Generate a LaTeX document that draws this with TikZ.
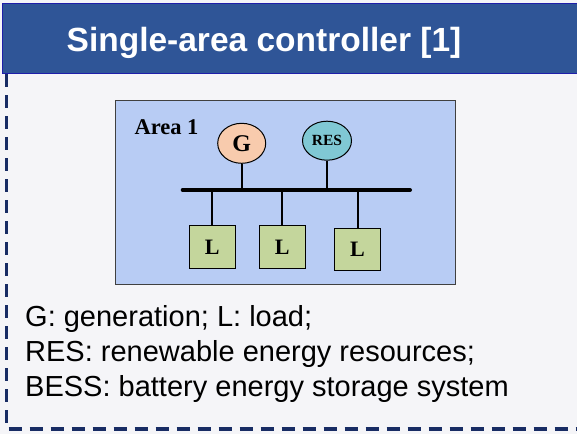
\documentclass[tikz,border=0pt]{standalone}
\usepackage{fontspec}
\setmainfont{Liberation Serif}
\newfontfamily\arialfont{Liberation Sans}
\definecolor{hdrblue}{RGB}{47,85,151}
\definecolor{hdredge}{RGB}{30,30,170}
\definecolor{navy}{RGB}{24,44,100}
\definecolor{bgpage}{RGB}{245,245,248}
\definecolor{areablue}{RGB}{184,204,244}
\definecolor{peach}{RGB}{248,203,173}
\definecolor{teal}{RGB}{128,200,212}
\definecolor{loadgreen}{RGB}{196,214,156}
\begin{document}
\begin{tikzpicture}[x=1pt,y=-1pt,
  gen/.style={ellipse, draw=black, line width=1pt, minimum width=48pt, minimum height=40pt, inner sep=0pt, font=\bfseries},
  loadbox/.style={rectangle, draw=black, line width=0.8pt, fill=loadgreen, minimum width=46.5pt, minimum height=42.5pt, inner sep=0pt, font=\fontsize{22}{22}\selectfont\bfseries},
  stem/.style={line width=2pt},
  border/.style={draw=navy, line width=3.5pt, dash pattern=on 13pt off 8pt}]
\usetikzlibrary{shapes.geometric}
\useasboundingbox (0,0) rectangle (577,434);
\fill[bgpage] (0,0) rectangle (577,434);
% dashed frame
\coordinate (ftop) at (6.5,74);
\coordinate (fbl) at (6.5,429);
\coordinate (fbr) at (580,429);
\draw[border] (ftop) -- (fbl) -- (fbr);
% header
\node[draw=hdredge, line width=0.8pt, fill=hdrblue, minimum width=580pt, minimum height=70pt, inner sep=0pt, anchor=north west] (hdr) at (2,3) {};
\node[text=white, font=\arialfont\fontsize{33.5}{33.5}\selectfont\bfseries] (title) at (264,43) {Single-area controller [1]};
% area
\node[draw=black!75, line width=1pt, fill=areablue, minimum width=340pt, minimum height=184pt, inner sep=0pt, anchor=north west] (area) at (115,100) {};
\node[font=\fontsize{22.5}{22.5}\selectfont\bfseries, anchor=west] (arealbl) at (131,127) {Area 1};
\node[gen, fill=peach, font=\fontsize{24}{24}\selectfont\bfseries] (G) at (241.7,143.3) {G};
\node[gen, fill=teal, minimum width=49pt, minimum height=39pt, font=\fontsize{15.5}{15.5}\selectfont\bfseries] (RES) at (327,140.7) {RES};
% bus
\coordinate (busl) at (182.7,190);
\coordinate (busr) at (410,190);
\draw[line width=4pt, line cap=round] (busl) -- (busr);
\node[loadbox] (L1) at (212.3,247) {L};
\node[loadbox] (L2) at (282.3,247) {L};
\node[loadbox] (L3) at (357.5,249.5) {L};
\draw[stem] (G.south) -- (G.south |- busl);
\draw[stem] (RES.south) -- (RES.south |- busl);
\draw[stem] (L1.north) -- (L1.north |- busl);
\draw[stem] (L2.north) -- (L2.north |- busl);
\draw[stem] (L3.north) -- (L3.north |- busl);
% legend
\node[anchor=north west, align=left, inner sep=0pt, font=\arialfont\fontsize{29}{35}\selectfont] (legend) at (25,305) {G: generation; L: load;\\RES: renewable energy resources;\\BESS: battery energy storage system};
\end{tikzpicture}
\end{document}
